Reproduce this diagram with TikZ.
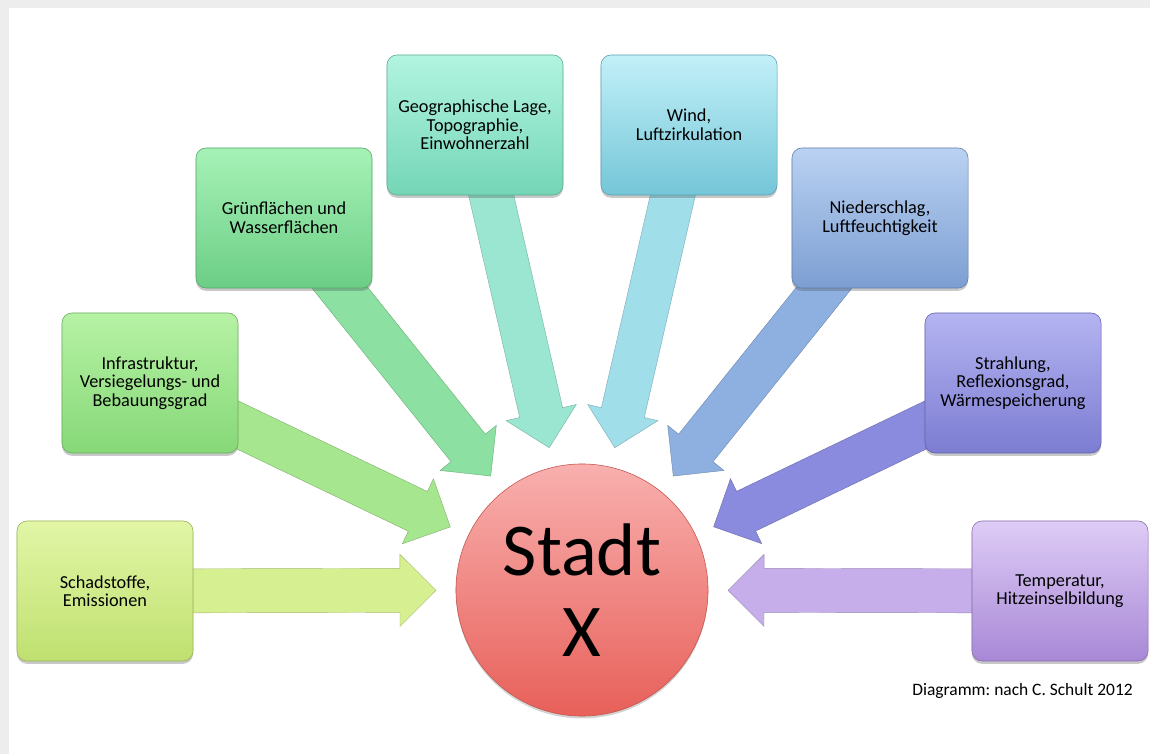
\documentclass[tikz,border=0pt]{standalone}
\usepackage{fontspec}
\setmainfont{Carlito}
\usetikzlibrary{calc,shadows}

\pgfdeclarelayer{bglayer}
\pgfdeclarelayer{arrowlayer}
\pgfsetlayers{bglayer,arrowlayer,main}

% box colours: top, bottom, arrow
\definecolor{aTop}{HTML}{E2F6A6}\definecolor{aBot}{HTML}{BFE070}\definecolor{aArr}{HTML}{D6EF90}
\definecolor{bTop}{HTML}{B6F2A4}\definecolor{bBot}{HTML}{86D878}\definecolor{bArr}{HTML}{A6E68E}
\definecolor{cTop}{HTML}{A6F2B6}\definecolor{cBot}{HTML}{6CCE86}\definecolor{cArr}{HTML}{8CE0A2}
\definecolor{dTop}{HTML}{B2F4E0}\definecolor{dBot}{HTML}{74D6B6}\definecolor{dArr}{HTML}{9AE6D0}
\definecolor{eTop}{HTML}{C2F0F8}\definecolor{eBot}{HTML}{74C6D8}\definecolor{eArr}{HTML}{A0DEEA}
\definecolor{fTop}{HTML}{BAD2F2}\definecolor{fBot}{HTML}{7C9ED2}\definecolor{fArr}{HTML}{8EB0E0}
\definecolor{gTop}{HTML}{B4B4F2}\definecolor{gBot}{HTML}{7C7CD2}\definecolor{gArr}{HTML}{8A8ADE}
\definecolor{hTop}{HTML}{DECCF6}\definecolor{hBot}{HTML}{A888D6}\definecolor{hArr}{HTML}{C6AEEA}
\definecolor{cityTop}{HTML}{F8B0AE}\definecolor{cityBot}{HTML}{E8605A}

\newcommand\boxfont{\fontsize{13}{13.2}\selectfont\frenchspacing}

% block arrow from the centre of a box to a tip coordinate
\newcommand\blockarrow[3]{%
  \coordinate (#2-hb) at ($(#2)!0.9cm!(#1)$);
  \path[flowarrow=#3]
    ($(#1)!0.55cm!90:(#2)$) -- ($(#2-hb)!0.55cm!90:(#2)$) --
    ($(#2-hb)!0.9cm!90:(#2)$) -- (#2) --
    ($(#2-hb)!0.9cm!-90:(#2)$) -- ($(#2-hb)!0.55cm!-90:(#2)$) --
    ($(#1)!0.55cm!-90:(#2)$) -- cycle;
}

\tikzset{
  box/.style={rounded corners=0.25cm, minimum width=4.4cm, minimum height=3.5cm,
    align=center, font=\boxfont,
    top color=#1Top, bottom color=#1Bot, draw=#1Bot!80!black, line width=0.4pt,
    drop shadow={shadow xshift=0pt, shadow yshift=-0.07cm, opacity=0.3, fill=black!70}},
  flowarrow/.style={fill=#1Arr, draw=#1Arr!78!black, line width=0.3pt, line join=miter},
  city/.style={circle, minimum size=6.3cm, inner sep=0pt, align=center,
    top color=cityTop, bottom color=cityBot, draw=cityBot!85!black, line width=0.4pt,
    font=\fontsize{53}{58}\selectfont,
    drop shadow={shadow xshift=0pt, shadow yshift=-0.06cm, opacity=0.25, fill=black!70}},
}

\begin{document}
\begin{tikzpicture}[x=0.025cm, y=-0.025cm]
\useasboundingbox (0,0) rectangle (1150,754);

\begin{pgfonlayer}{bglayer}
  \fill[black!7] (0,0) rectangle (1150,754);
  \fill[white] (9,8) rectangle (1150,754);
\end{pgfonlayer}

% central node
\node[city] (city) at (582,590) {Stadt\\X};

% surrounding factors
\node[box=a] (sA) at (105,591)  {Schadstoffe,\\Emissionen};
\node[box=b] (sB) at (150,383)  {Infrastruktur,\\Versiegelungs- und\\Bebauungsgrad};
\node[box=c] (sC) at (284,218)  {Grünflächen und\\Wasserflächen};
\node[box=d] (sD) at (475,125)  {Geographische Lage,\\Topographie,\\Einwohnerzahl};
\node[box=e] (sE) at (689,125)  {Wind,\\Luftzirkulation};
\node[box=f] (sF) at (880,218)  {Niederschlag,\\Luftfeuchtigkeit};
\node[box=g] (sG) at (1013,383) {Strahlung,\\Reflexionsgrad,\\Wärmespeicherung};
\node[box=h] (sH) at (1060,591) {Temperatur,\\Hitzeinselbildung};

% arrow tips around the circle
\foreach \s in {A,B,C,D,E,F,G,H}{
  \coordinate (t\s) at ($(city)!3.65cm!(s\s)$);
}

\begin{pgfonlayer}{arrowlayer}
  \blockarrow{sA}{tA}{a}
  \blockarrow{sB}{tB}{b}
  \blockarrow{sC}{tC}{c}
  \blockarrow{sD}{tD}{d}
  \blockarrow{sE}{tE}{e}
  \blockarrow{sF}{tF}{f}
  \blockarrow{sG}{tG}{g}
  \blockarrow{sH}{tH}{h}
\end{pgfonlayer}

\node[anchor=base east, font=\fontsize{12.4}{14}\selectfont\frenchspacing, inner sep=0pt] (credit) at (1133,695)
  {Diagramm: nach C. Schult 2012};
\end{tikzpicture}
\end{document}
